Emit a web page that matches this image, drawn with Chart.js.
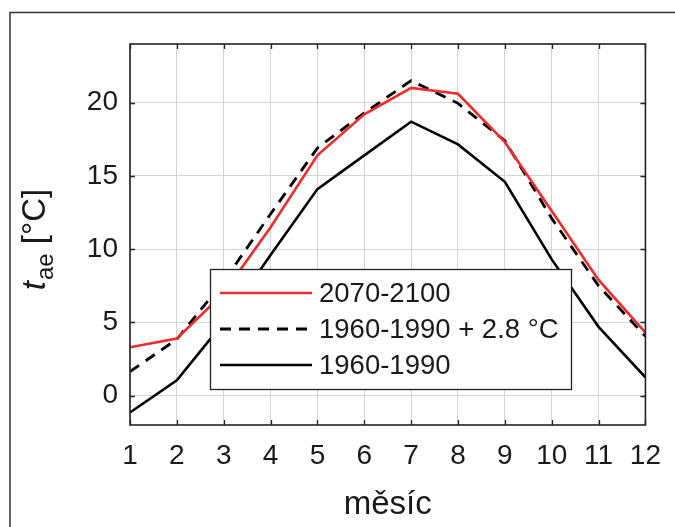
<!DOCTYPE html>
<html>
<head>
<meta charset="utf-8">
<script src="https://cdn.jsdelivr.net/npm/chart.js@4.4.1/dist/chart.umd.min.js"></script>
<style>
  html, body { margin: 0; padding: 0; background: #fff; }
  #wrap { width: 675px; height: 527px; }
</style>
</head>
<body>
<div id="wrap"><canvas id="chart" width="675" height="527"></canvas></div>
<script>
// Data
const months = [1, 2, 3, 4, 5, 6, 7, 8, 9, 10, 11, 12];
const t2070 = [3.3, 3.9, 7.0, 11.5, 16.4, 19.2, 21.0, 20.6, 17.3, 12.6, 7.9, 4.3];
const t1960plus = [1.65, 3.85, 7.8, 12.4, 16.9, 19.3, 21.5, 19.95, 17.4, 12.1, 7.5, 4.05];
const t1960 = [-1.15, 1.05, 5.0, 9.6, 14.1, 16.4, 18.7, 17.15, 14.6, 9.3, 4.7, 1.25];
const seriesLabels = ['2070-2100', '1960-1990 + 2.8 °C', '1960-1990'];
const xTicks = [1, 2, 3, 4, 5, 6, 7, 8, 9, 10, 11, 12];
const yTicks = [0, 5, 10, 15, 20];

const FONT = 'Liberation Sans, Arial, sans-serif';
const RED = '#ee2c2c';

Chart.defaults.font.family = FONT;
Chart.defaults.color = '#222';

function toPoints(values) {
    return values.map((v, i) => ({ x: months[i], y: v }));
}

// Frame, axis box, inward ticks, legend and axis titles
const decorations = {
    id: 'decorations',
    beforeDraw(chart) {
        const ctx = chart.ctx;
        ctx.save();
        ctx.fillStyle = '#fff';
        ctx.fillRect(0, 0, chart.width, chart.height);
        ctx.restore();
    },
    afterDraw(chart) {
        const ctx = chart.ctx;
        const area = chart.chartArea;
        const xs = chart.scales.x;
        const ys = chart.scales.y;
        ctx.save();

        // outer figure frame (only top and left visible)
        ctx.strokeStyle = '#333';
        ctx.lineWidth = 1.5;
        ctx.beginPath();
        ctx.moveTo(10, chart.height);
        ctx.lineTo(10, 12.5);
        ctx.lineTo(chart.width, 12.5);
        ctx.stroke();

        // axis box
        ctx.strokeStyle = '#222';
        ctx.lineWidth = 1.6;
        ctx.strokeRect(area.left, area.top, area.right - area.left, area.bottom - area.top);

        // inward tick marks
        ctx.lineWidth = 1.3;
        ctx.beginPath();
        xTicks.forEach(v => {
            const px = Math.round(xs.getPixelForValue(v)) + 0.5;
            ctx.moveTo(px, area.bottom); ctx.lineTo(px, area.bottom - 5);
            ctx.moveTo(px, area.top); ctx.lineTo(px, area.top + 5);
        });
        yTicks.forEach(v => {
            const py = Math.round(ys.getPixelForValue(v)) + 0.5;
            ctx.moveTo(area.left, py); ctx.lineTo(area.left + 5, py);
            ctx.moveTo(area.right, py); ctx.lineTo(area.right - 5, py);
        });
        ctx.stroke();

        // legend
        const lx = 210, ly = 269, lw = 361, lh = 120;
        ctx.fillStyle = '#fff';
        ctx.fillRect(lx, ly, lw, lh);
        ctx.strokeStyle = '#222';
        ctx.lineWidth = 1.3;
        ctx.strokeRect(lx + 0.5, ly + 0.5, lw, lh);
        const rows = [293, 329, 365];
        chart.data.datasets.forEach((ds, i) => {
            ctx.strokeStyle = ds.borderColor;
            ctx.lineWidth = ds.borderWidth;
            ctx.setLineDash(ds.borderDash || []);
            ctx.beginPath();
            ctx.moveTo(220, rows[i]);
            ctx.lineTo(312, rows[i]);
            ctx.stroke();
            ctx.setLineDash([]);
            ctx.fillStyle = '#1a1a1a';
            ctx.font = '27.5px ' + FONT;
            ctx.textAlign = 'left';
            ctx.textBaseline = 'middle';
            ctx.fillText(ds.label, 319, rows[i] + 1);
        });

        // x axis title
        ctx.fillStyle = '#1a1a1a';
        ctx.font = '33px ' + FONT;
        ctx.textAlign = 'center';
        ctx.textBaseline = 'alphabetic';
        ctx.fillText('měsíc', (area.left + area.right) / 2, 514);

        // y axis title: t_ae [°C]
        ctx.translate(45, 240);
        ctx.rotate(-Math.PI / 2);
        const big = '33px ' + FONT;
        const bigItalic = 'italic 33px ' + FONT;
        const small = '24px ' + FONT;
        ctx.textAlign = 'left';
        ctx.textBaseline = 'alphabetic';
        ctx.font = bigItalic; const w1 = ctx.measureText('t').width;
        ctx.font = small; const w2 = ctx.measureText('ae').width;
        ctx.font = big; const w3 = ctx.measureText(' [°C]').width;
        let x0 = -(w1 + w2 + w3) / 2;
        ctx.font = bigItalic; ctx.fillText('t', x0, 0); x0 += w1 + 1;
        ctx.font = small; ctx.fillText('ae', x0, 8); x0 += w2;
        ctx.font = big; ctx.fillText(' [°C]', x0, 0);

        ctx.restore();
    }
};

new Chart(document.getElementById('chart'), {
    type: 'line',
    data: {
        datasets: [
            {
                label: seriesLabels[0],
                data: toPoints(t2070),
                borderColor: RED,
                borderWidth: 2.6,
                pointRadius: 0,
                tension: 0
            },
            {
                label: seriesLabels[1],
                data: toPoints(t1960plus),
                borderColor: '#000',
                borderWidth: 2.8,
                borderDash: [11, 8],
                pointRadius: 0,
                tension: 0
            },
            {
                label: seriesLabels[2],
                data: toPoints(t1960),
                borderColor: '#000',
                borderWidth: 2.6,
                pointRadius: 0,
                tension: 0
            }
        ]
    },
    options: {
        responsive: false,
        animation: false,
        devicePixelRatio: 1,
        layout: { padding: { top: 44, right: 27, left: 0, bottom: 0 } },
        plugins: {
            legend: { display: false },
            tooltip: { enabled: false }
        },
        scales: {
            x: {
                type: 'linear',
                min: 1,
                max: 12,
                afterBuildTicks: s => { s.ticks = xTicks.map(v => ({ value: v })); },
                afterFit: s => { s.height = 102; },
                grid: { color: '#d3d4d8', lineWidth: 1, drawTicks: false },
                border: { display: false },
                ticks: {
                    padding: 14,
                    color: '#1a1a1a',
                    font: { size: 28 },
                    maxRotation: 0,
                    autoSkip: false
                }
            },
            y: {
                type: 'linear',
                min: -2,
                max: 24,
                afterBuildTicks: s => { s.ticks = yTicks.map(v => ({ value: v })); },
                afterFit: s => { s.width = 130; },
                grid: { color: '#d3d4d8', lineWidth: 1, drawTicks: false },
                border: { display: false },
                ticks: {
                    padding: 12,
                    color: '#1a1a1a',
                    font: { size: 28 }
                }
            }
        }
    },
    plugins: [decorations]
});
</script>
</body>
</html>
